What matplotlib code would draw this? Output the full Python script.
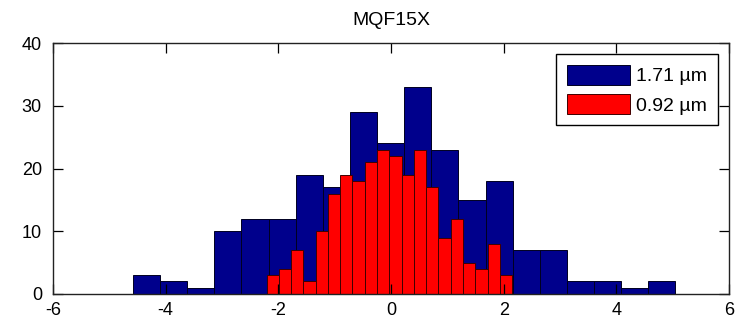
import numpy as np
import matplotlib
matplotlib.use("Agg")
import matplotlib.pyplot as plt

title = "MQF15X"
labels = ["1.71 \u00b5m", "0.92 \u00b5m"]

# 1.71 um histogram: 20 bins between range limits
blue_range = [-4.58, 5.05]
blue_counts = [3, 2, 1, 10, 12, 12, 19, 17, 29, 24, 33, 23, 15, 18, 7, 7, 2, 2, 1, 2]

# 0.92 um histogram: 20 bins between range limits
red_range = [-2.21, 2.15]
red_counts = [3, 4, 7, 2, 10, 16, 19, 18, 21, 23, 22, 19, 23, 17, 9, 12, 5, 4, 8, 3]

xticks = [-6, -4, -2, 0, 2, 4, 6]
yticks = [0, 10, 20, 30, 40]

plt.rcParams['font.family'] = ['Liberation Sans', 'DejaVu Sans']

fig = plt.figure(figsize=(7.52, 3.22), dpi=100)
ax = fig.add_axes([53/752, 1-294/322, 676/752, 251/322])

def draw(rng, counts, color, edge, label):
    edges = np.linspace(rng[0], rng[1], len(counts) + 1)
    w = np.diff(edges)
    return ax.bar(edges[:-1], counts, width=w, align='edge', color=color,
                  edgecolor=edge, linewidth=0.7, label=label)

draw(blue_range, blue_counts, '#00008c', '#000020', labels[0])
draw(red_range, red_counts, '#ff0000', '#400000', labels[1])

ax.set_xlim(-6, 6)
ax.set_ylim(0, 40)
ax.set_xticks(xticks)
ax.set_yticks(yticks)
ax.set_xticklabels([str(t) for t in xticks])
ax.set_yticklabels([str(t) for t in yticks])
ax.tick_params(direction='in', top=True, right=True, length=7, width=0.9,
               labelsize=13, colors='black')
ax.tick_params(axis='x', pad=6)
ax.tick_params(axis='y', pad=8)
for s in ax.spines.values():
    s.set_linewidth(1.0)
    s.set_color('#222222')

ax.set_title(title, fontsize=14, pad=13)

leg = ax.legend(loc='upper right', bbox_to_anchor=(0.983, 0.956), fontsize=14,
                handlelength=3.25, handleheight=1.19, handletextpad=0.3,
                borderpad=0.55, labelspacing=0.46, borderaxespad=0,
                fancybox=False, framealpha=1, edgecolor='black')
leg.get_frame().set_linewidth(1.0)

fig.savefig("out.png", dpi=100)
